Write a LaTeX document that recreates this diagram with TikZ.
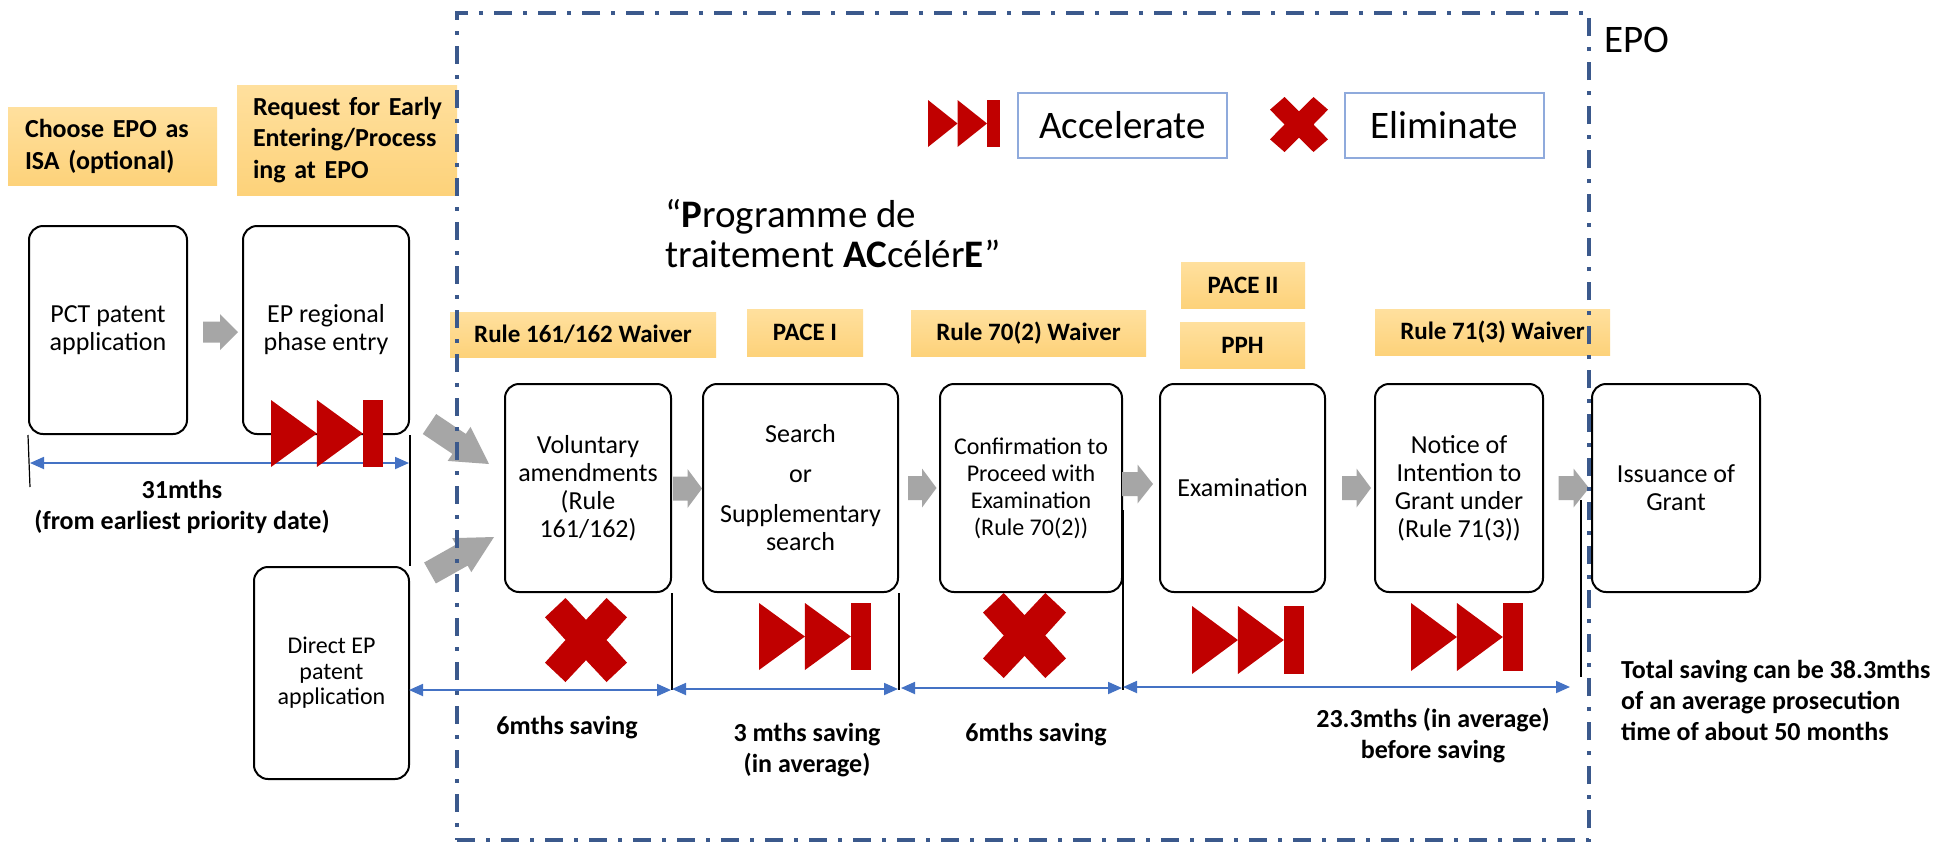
\documentclass[tikz,border=0pt]{standalone}
\usepackage{fontspec}
\setmainfont{Carlito}
\usetikzlibrary{arrows.meta,calc}
\definecolor{accred}{RGB}{192,0,0}
\definecolor{arrgray}{RGB}{166,166,166}
\definecolor{dimblue}{RGB}{68,114,196}
\definecolor{epoblue}{RGB}{59,89,140}
\definecolor{legblue}{RGB}{143,170,220}
\definecolor{labtop}{RGB}{255,224,158}
\definecolor{labbot}{RGB}{253,210,122}
\newcommand\fs[2]{\fontsize{#1pt}{#2pt}\selectfont}
% accelerate icon: top-left x, y, width, height
\newcommand\accicon[4]{%
  \fill[accred] (#1,#2) -- ({#1+0.41*#3},{#2+0.5*#4}) -- (#1,{#2+#4}) -- cycle;
  \fill[accred] ({#1+0.41*#3},#2) -- ({#1+0.82*#3},{#2+0.5*#4}) -- ({#1+0.41*#3},{#2+#4}) -- cycle;
  \fill[accred] ({#1+0.825*#3},#2) rectangle ({#1+#3},{#2+#4});}
% eliminate icon: centre x, y, half width, half height
\newcommand\xicon[4]{%
  \fill[accred] ({#1-#3},{#2-0.54*#4}) -- ({#1-0.5*#3},{#2-#4}) -- (#1,{#2-0.48*#4})
    -- ({#1+0.5*#3},{#2-#4}) -- ({#1+#3},{#2-0.54*#4}) -- ({#1+0.5*#3},#2)
    -- ({#1+#3},{#2+0.54*#4}) -- ({#1+0.5*#3},{#2+#4}) -- (#1,{#2+0.48*#4})
    -- ({#1-0.5*#3},{#2+#4}) -- ({#1-#3},{#2+0.54*#4}) -- ({#1-0.5*#3},#2) -- cycle;}
% block arrow connector: from, to, shaft width, head width, head length
\newcommand\bconn[5]{%
  \path let \p1=(#1), \p2=(#2) in \pgfextra{%
    \pgfmathsetmacro\bangtmp{atan2(\y2-\y1,\x2-\x1)}%
    \pgfmathsetmacro\blentmp{veclen(\x2-\x1,\y2-\y1)}%
    \xdef\bang{\bangtmp}\xdef\blen{\blentmp}\xdef\bx{\x1}\xdef\by{\y1}};
  \fill[arrgray,shift={(\bx,\by)},rotate=\bang] (0,{-#3/2}) -- ({\blen-#5},{-#3/2})
    -- ({\blen-#5},{-#4/2}) -- (\blen,0) -- ({\blen-#5},{#4/2}) -- ({\blen-#5},{#3/2})
    -- (0,{#3/2}) -- cycle;}
\begin{document}
\begin{tikzpicture}[x=1pt,y=-1pt,
  procbox/.style={draw=black,line width=2pt,rounded corners=14pt,fill=white,inner sep=0pt,align=center,font=\fs{26}{28}},
  ylab/.style={top color=labtop,bottom color=labbot,draw=none,inner sep=0pt,font=\bfseries\fs{25}{31}},
  legbox/.style={draw=legblue,line width=2.5pt,fill=white,inner sep=0pt,font=\fs{39}{40}},
  dimline/.style={draw=dimblue,line width=1.8pt,{Triangle[length=14pt,width=12pt]}-{Triangle[length=14pt,width=12pt]}},
  vline/.style={draw=black,line width=1.2pt},
  btext/.style={font=\bfseries\fs{26}{31},align=center,inner sep=0pt},
  epobox/.style={draw=epoblue,line width=4.5pt,dash pattern=on 18pt off 11pt on 4pt off 11pt,inner sep=0pt}]
\fill[white] (0,0) rectangle (1942,846);
\useasboundingbox (0,0) rectangle (1942,846);

% yellow labels
\node[ylab,minimum width=209pt,minimum height=78pt,text width=175pt,align=left,font=\bfseries\fs{26}{32}] (isa) at (112.5,146) {\mbox{Choose EPO as}\\\mbox{ISA (optional)}};
\node[ylab,minimum width=220pt,minimum height=110pt,text width=188pt,align=left,font=\bfseries\fs{26}{31.5}] (early) at (347,140) {\mbox{Request for Early}\\\mbox{Entering/Process}\\\mbox{ing at EPO}};
\node[ylab,minimum width=266pt,minimum height=45pt] (w161) at (583,334.5) {Rule 161/162 Waiver};
\node[ylab,minimum width=116pt,minimum height=47pt] (pace1) at (805,332.5) {PACE I};
\node[ylab,minimum width=235pt,minimum height=46pt] (w702) at (1028.5,333) {Rule 70(2) Waiver};
\node[ylab,minimum width=124pt,minimum height=46pt] (pace2) at (1243,285) {PACE II};
\node[ylab,minimum width=125pt,minimum height=46pt] (pph) at (1242.5,345) {PPH};
\node[ylab,minimum width=235pt,minimum height=46pt] (w713) at (1492.5,332) {Rule 71(3) Waiver};

% title
\node[anchor=west,align=left,inner sep=0pt,font=\fs{39}{40}] (title) at (665,234) {“\textbf{P}rogramme de\\traitement \textbf{AC}célér\textbf{E}”};

% legend
\accicon{928}{100}{72}{47}
\node[legbox,minimum width=209pt,minimum height=65pt] (legacc) at (1122.5,125.5) {Accelerate};
\xicon{1299}{124.5}{29}{27.5}
\node[legbox,minimum width=199pt,minimum height=65pt] (legeli) at (1444.5,125.5) {Eliminate};
\node[font=\fs{39}{40},inner sep=0pt] (epo) at (1637,40) {EPO};

% process boxes
\node[procbox,minimum width=158pt,minimum height=208pt] (pct) at (108,330) {PCT patent\\application};
\node[procbox,minimum width=166pt,minimum height=208pt] (epr) at (326,330) {EP regional\\phase entry};
\node[procbox,minimum width=155pt,minimum height=212pt,font=\fs{24}{25.5}] (dir) at (331.5,673) {Direct EP\\patent\\application};
\node[procbox,minimum width=166pt,minimum height=208pt] (vol) at (588,488) {Voluntary\\amendments\\(Rule\\161/162)};
\node[procbox,minimum width=195pt,minimum height=208pt] (sea) at (800.5,488) {Search\\[12pt]or\\[12pt]Supplementary\\search};
\node[procbox,minimum width=182pt,minimum height=208pt,font=\fs{24}{27}] (con) at (1031,488) {Confirmation to\\Proceed with\\Examination\\(Rule 70(2))};
\node[procbox,minimum width=165pt,minimum height=208pt] (exa) at (1242.5,488) {Examination};
\node[procbox,minimum width=168pt,minimum height=208pt] (noi) at (1459,488) {Notice of\\Intention to\\Grant under\\(Rule 71(3))};
\node[procbox,minimum width=168pt,minimum height=208pt] (iss) at (1676,488) {Issuance of\\Grant};

% block arrows
\bconn{[shift={(15,2)}]pct.east}{[shift={(-4,2)}]epr.west}{21}{36}{18}
\bconn{[shift={(19.5,-11)}]epr.south east}{[shift={(-15,-24)}]vol.west}{24}{41}{36}
\bconn{[shift={(20,7)}]dir.north east}{[shift={(-10,49)}]vol.west}{24}{39}{37}
\bconn{[shift={(1,0.5)}]vol.east}{[shift={(0,0.5)}]sea.west}{24}{39}{14.5}
\bconn{[shift={(9,0)}]sea.east}{[shift={(-2.5,0)}]con.west}{24}{39}{14.5}
\bconn{[shift={(-1,-4)}]con.east}{[shift={(-6,-4)}]exa.west}{24}{39}{15.5}
\bconn{[shift={(16,0)}]exa.east}{[shift={(-3,0)}]noi.west}{24}{39}{14.5}
\bconn{[shift={(14.5,0)}]noi.east}{[shift={(-2,0)}]iss.west}{24}{39}{15.5}

% vertical reference lines
\coordinate (t1) at (30,487);
\coordinate (t6a) at (1581,500);
\coordinate (t6b) at (1581,677);
\draw[vline] (pct.south west) -- (t1);
\draw[vline] (epr.south east) -- (dir.north east);
\draw[vline] (vol.south east) -- ++(0,97);
\draw[vline] (sea.south east) -- ++(0,97);
\draw[vline] ([shift={(0,22)}]con.east) -- ++(0,180);
\draw[vline] (t6a) -- (t6b);

% dimension lines
\coordinate (d1a) at (30,463);  \coordinate (d1b) at (409,463);
\coordinate (d2a) at (409,690); \coordinate (d2b) at (671,690);
\coordinate (d3a) at (672,689); \coordinate (d3b) at (898,689);
\coordinate (d4a) at (901,688); \coordinate (d4b) at (1122,688);
\coordinate (d5a) at (1123,687); \coordinate (d5b) at (1570,687);
\draw[dimline] (d1a) -- (d1b);
\draw[dimline] (d2a) -- (d2b);
\draw[dimline] (d3a) -- (d3b);
\draw[dimline] (d4a) -- (d4b);
\draw[dimline] (d5a) -- (d5b);

% icons
\accicon{271}{400}{112}{67}
\accicon{759}{603}{112}{67}
\accicon{1192}{606}{112}{68}
\accicon{1411}{603}{112}{68}
\xicon{586}{640}{41}{42}
\xicon{1024.5}{635.5}{41.5}{42.5}

% bottom texts
\node[btext] (m31) at (182,506.5) {31mths\\(from earliest priority date)};
\node[btext] (s1) at (567,728) {6mths saving};
\node[btext] (s2) at (807,750) {3 mths saving\\(in average)};
\node[btext] (s3) at (1036,735) {6mths saving};
\node[btext] (s4) at (1433,736) {23.3mths (in average)\\before saving};
\node[btext,align=left,anchor=west] (tot) at (1621,700) {Total saving can be 38.3mths\\of an average prosecution\\time of about 50 months};

% EPO frame
\node[epobox,minimum width=1132pt,minimum height=827pt] (epoframe) at (1023,426.5) {};
\end{tikzpicture}
\end{document}
